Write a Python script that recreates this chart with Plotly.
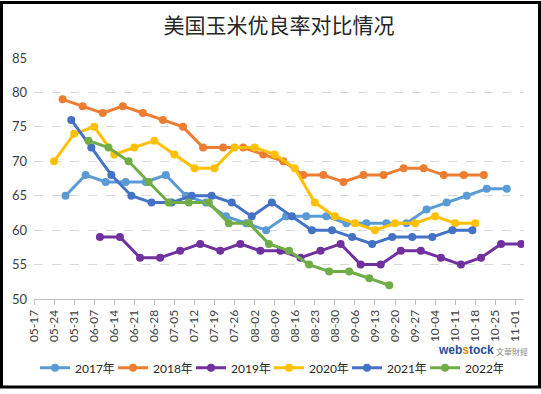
import plotly.graph_objects as go

BASE_YEAR = "2022"

dates_2017 = ["05-28", "06-04", "06-11", "06-18", "06-25", "07-02", "07-09", "07-16", "07-23", "07-30",
              "08-06", "08-13", "08-20", "08-27", "09-03", "09-10", "09-17", "09-24", "10-01", "10-08",
              "10-15", "10-22", "10-29"]
values_2017 = [65, 68, 67, 67, 67, 68, 65, 64, 62, 61, 60, 62, 62, 62, 61, 61, 61, 61, 63, 64, 65, 66, 66]

dates_2018 = ["05-27", "06-03", "06-10", "06-17", "06-24", "07-01", "07-08", "07-15", "07-22", "07-29",
              "08-05", "08-12", "08-19", "08-26", "09-02", "09-09", "09-16", "09-23", "09-30", "10-07",
              "10-14", "10-21"]
values_2018 = [79, 78, 77, 78, 77, 76, 75, 72, 72, 72, 71, 70, 68, 68, 67, 68, 68, 69, 69, 68, 68, 68]

dates_2019 = ["06-09", "06-16", "06-23", "06-30", "07-07", "07-14", "07-21", "07-28", "08-04", "08-11",
              "08-18", "08-25", "09-01", "09-08", "09-15", "09-22", "09-29", "10-06", "10-13", "10-20",
              "10-27", "11-03"]
values_2019 = [59, 59, 56, 56, 57, 58, 57, 58, 57, 57, 56, 57, 58, 55, 55, 57, 57, 56, 55, 56, 58, 58]

dates_2020 = ["05-24", "05-31", "06-07", "06-14", "06-21", "06-28", "07-05", "07-12", "07-19", "07-26",
              "08-02", "08-09", "08-16", "08-23", "08-30", "09-06", "09-13", "09-20", "09-27", "10-04",
              "10-11", "10-18"]
values_2020 = [70, 74, 75, 71, 72, 73, 71, 69, 69, 72, 72, 71, 69, 64, 62, 61, 60, 61, 61, 62, 61, 61]

dates_2021 = ["05-30", "06-06", "06-13", "06-20", "06-27", "07-04", "07-11", "07-18", "07-25", "08-01",
              "08-08", "08-15", "08-22", "08-29", "09-05", "09-12", "09-19", "09-26", "10-03", "10-10",
              "10-17"]
values_2021 = [76, 72, 68, 65, 64, 64, 65, 65, 64, 62, 64, 62, 60, 60, 59, 58, 59, 59, 59, 60, 60]

dates_2022 = ["06-05", "06-12", "06-19", "06-26", "07-03", "07-10", "07-17", "07-24", "07-31", "08-07",
              "08-14", "08-21", "08-28", "09-04", "09-11", "09-18"]
values_2022 = [73, 72, 70, 67, 64, 64, 64, 61, 61, 58, 57, 55, 54, 54, 53, 52]

series = [
    ("2017年", dates_2017, values_2017, "#5B9BD5"),
    ("2018年", dates_2018, values_2018, "#ED7D31"),
    ("2019年", dates_2019, values_2019, "#7030A0"),
    ("2020年", dates_2020, values_2020, "#FFC000"),
    ("2021年", dates_2021, values_2021, "#4472C4"),
    ("2022年", dates_2022, values_2022, "#70AD47"),
]

NUM_FONT = "Lato, 'Noto Sans CJK SC', sans-serif"

fig = go.Figure()
for name, d, v, c in series:
    fig.add_trace(go.Scatter(
        x=[f"{BASE_YEAR}-{s}" for s in d], y=v, name=name,
        mode="lines+markers",
        line=dict(color=c, width=3),
        marker=dict(color=c, size=8),
    ))

W, H = 541, 394
ml, mr, mt, mb = 34, 17, 58, 91
pw, ph = W - ml - mr, H - mt - mb

def px_x(px):
    return (px - ml) / pw

def px_y(py):
    return (H - mb - py) / ph

fig.update_layout(
    width=W, height=H,
    margin=dict(l=ml, r=mr, t=mt, b=mb),
    paper_bgcolor="white", plot_bgcolor="white",
    title=dict(text="美国玉米优良率对比情况", x=0.5, xref="paper", xanchor="center",
               y=1 - 26 / H, yanchor="middle",
               font=dict(family="'Noto Sans CJK SC', sans-serif", size=21, color="#262626")),
    xaxis=dict(
        type="date",
        range=[f"{BASE_YEAR}-05-17", f"{BASE_YEAR}-11-04"],
        tick0=f"{BASE_YEAR}-05-17", dtick=7 * 86400000,
        tickformat="%m-%d", tickangle=-90,
        showgrid=False, showline=True, linecolor="#BFBFBF", linewidth=1,
        ticks="outside", ticklen=5, tickcolor="#BFBFBF",
        tickfont=dict(family=NUM_FONT, size=12, color="#404040"),
        fixedrange=True,
    ),
    yaxis=dict(
        range=[50, 85], dtick=5, tick0=50,
        showgrid=True, gridcolor="#D9D9D9", griddash="dash", gridwidth=1,
        zeroline=False, showline=False,
        tickfont=dict(family=NUM_FONT, size=13, color="#404040"),
        ticks="", ticklabelstandoff=6,
    ),
    legend=dict(
        orientation="h", x=px_x(269), xanchor="center",
        y=px_y(373), yanchor="middle", xref="paper",
        font=dict(family=NUM_FONT, size=12, color="#262626"),
        entrywidth=33, entrywidthmode="pixels", itemwidth=30,
        bgcolor="rgba(0,0,0,0)",
    ),
    showlegend=True,
)

# watermark logo as text
fig.add_annotation(
    x=px_x(466), y=px_y(355), xref="paper", yref="paper", showarrow=False,
    xanchor="center", yanchor="middle",
    text="<b><span style='color:#1F4E9A'>web</span><span style='color:#F08C00'>s</span>"
         "<span style='color:#1F4E9A'>tock</span></b>",
    font=dict(family="'Liberation Sans', sans-serif", size=12),
)
fig.add_annotation(
    x=px_x(512), y=px_y(356), xref="paper", yref="paper", showarrow=False,
    xanchor="center", yanchor="middle",
    text="文華財經",
    font=dict(family="'Noto Sans CJK TC', sans-serif", size=8, color="#8C8C8C"),
)

# outer black frame
fig.add_shape(
    type="rect", xref="paper", yref="paper",
    x0=px_x(1.5), x1=px_x(W - 1.5), y0=px_y(H - 1.5), y1=px_y(1.5),
    line=dict(color="black", width=3), fillcolor="rgba(0,0,0,0)", layer="above",
)

fig.write_html(
    "out.html",
    config={"displayModeBar": False},
    post_script="document.body.style.margin='0';document.body.style.padding='0';"
                "document.body.style.overflow='hidden';",
)
